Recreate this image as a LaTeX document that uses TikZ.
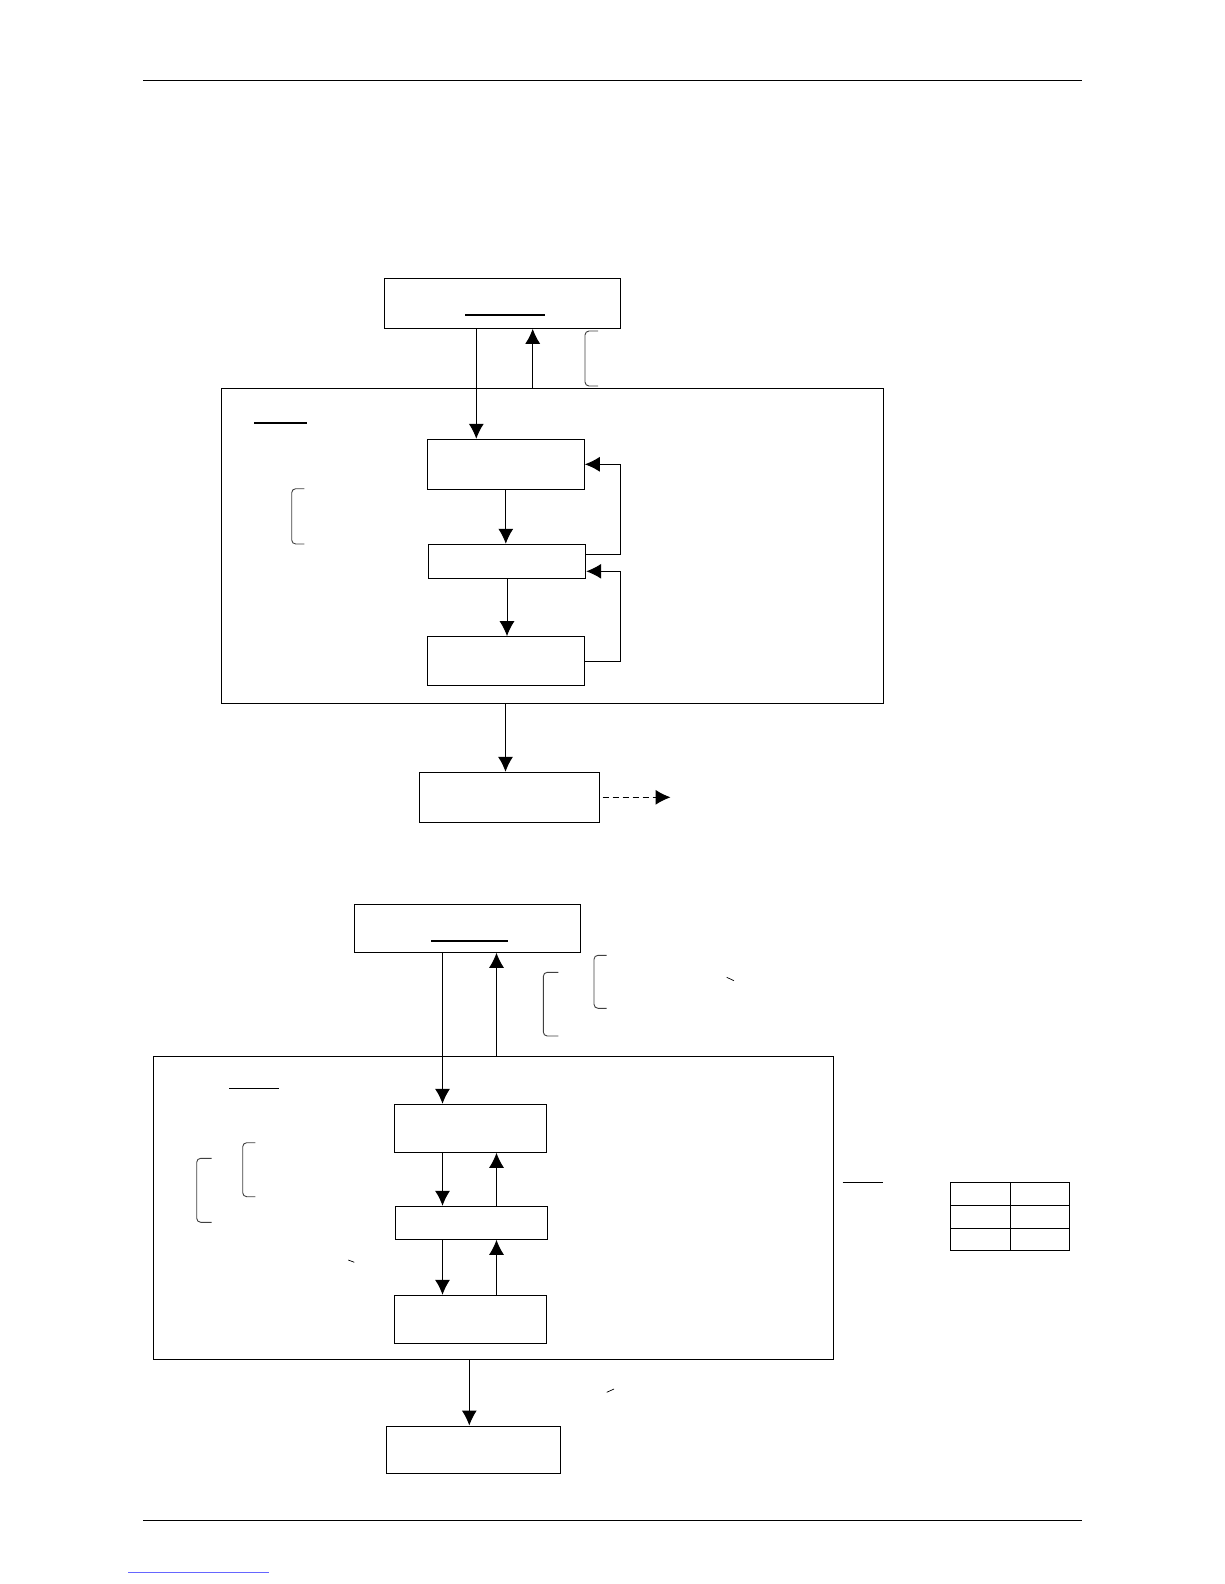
\documentclass[tikz,border=0pt]{standalone}
\usepackage{amsmath,amssymb}
\usepackage{xcolor}
\usepackage{tikz}
\usetikzlibrary{arrows.meta}

\tikzset{
  box/.style={draw, line width=1pt, inner sep=0pt, rectangle},
  brace/.style={draw=black!75, line width=0.9pt, rounded corners=4pt},
  rule/.style={line width=1pt},
}

\begin{document}
\begin{tikzpicture}[x=1pt, y=-1pt, line width=1pt, >={Latex[length=15pt,width=15pt]}]
  \useasboundingbox (0,0) rectangle (1224,1584);
  % page rules
  \draw [rule] (143.3,80.7) -- (1081.7,80.7);
  \draw [rule] (143.3,1520.3) -- (1081.7,1520.3);
  \draw [line width=0.8pt, blue!60] (128,1572) -- (269,1572);

  % upper diagram
  \node [box, minimum width=236.4, minimum height=50] (top1) at (502.5,303.3) {};
  \node [box, minimum width=661.6, minimum height=314.5] (big1) at (552.5,546) {};
  \node [box, minimum width=157, minimum height=50] (A) at (505.8,464.3) {};
  \node [box, minimum width=157.4, minimum height=34] (B) at (507,561.3) {};
  \node [box, minimum width=157, minimum height=49.3] (C) at (505.8,661.3) {};
  \node [box, minimum width=179.7, minimum height=50] (D) at (509.2,797.3) {};
  \coordinate (xdn1) at (476.3,0);
  \coordinate (xup1) at (532.7,0);
  \coordinate (xout) at (505.5,0);

  \draw [->] (top1.south -| xdn1) -- (A.north -| xdn1);
  \draw [->] (big1.north -| xup1) -- (top1.south -| xup1);
  \draw [->] (A.south) -- (A.south |- B.north);
  \draw [->] (B.south) -- (B.south |- C.north);
  \draw [->] ([yshift=7.3pt]B.east) -- ++(34.3,0) |- (A.east);
  \draw [->] (C.east) -- ++(35.7,0) |- ([yshift=-10pt]B.east);
  \draw [->] (big1.south -| xout) -- (D.north -| xout);
  \draw [->, dash pattern=on 6pt off 4pt] ([xshift=3pt]D.east) -- ++(68,0);

  \draw [line width=1.2pt] (465,315) -- (545,315);
  \draw [line width=1.6pt] (254.3,422.7) -- (306.7,422.7);
  \draw [brace] (598,331) -- (585,331) -- (585,386) -- (598,386);
  \draw [brace] (304.3,488.7) -- (291.7,488.7) -- (291.7,544) -- (304.3,544);

  % lower diagram
  \node [box, minimum width=226.4, minimum height=48] (top2) at (467.5,928.3) {};
  \node [box, minimum width=680, minimum height=302.6] (big2) at (493.3,1208) {};
  \node [box, minimum width=152.4, minimum height=48] (F) at (470.5,1128.3) {};
  \node [box, minimum width=152.4, minimum height=33] (G) at (471.5,1222.8) {};
  \node [box, minimum width=152.4, minimum height=48] (H) at (470.5,1319.3) {};
  \node [box, minimum width=173.6, minimum height=47.6] (I) at (473.5,1449.8) {};
  \coordinate (xdn) at (442.5,0);
  \coordinate (xup) at (496.5,0);
  \coordinate (xout2) at (469.3,0);

  \draw [->] (top2.south -| xdn) -- (F.north -| xdn);
  \draw [->] (big2.north -| xup) -- (top2.south -| xup);
  \draw [->] (F.south -| xdn) -- (G.north -| xdn);
  \draw [->] (G.north -| xup) -- (F.south -| xup);
  \draw [->] (G.south -| xdn) -- (H.north -| xdn);
  \draw [->] (H.north -| xup) -- (G.south -| xup);
  \draw [->] (big2.south -| xout2) -- (I.north -| xout2);

  \draw [line width=1.6pt] (431,940.7) -- (507.7,940.7);
  \draw [line width=1.2pt] (229,1088.3) -- (279,1088.3);
  \draw [line width=1.2pt] (842.7,1182.3) -- (882.7,1182.3);
  \draw [brace] (558.3,972.3) -- (543.3,972.3) -- (543.3,1036) -- (558.3,1036);
  \draw [brace] (606.7,955.3) -- (594,955.3) -- (594,1008.3) -- (606.7,1008.3);
  \draw [brace] (211.7,1158.3) -- (196.7,1158.3) -- (196.7,1222.3) -- (211.7,1222.3);
  \draw [brace] (255.3,1142.7) -- (242.7,1142.7) -- (242.7,1196.7) -- (255.3,1196.7);
  \draw [line width=0.7pt] (726.7,977.3) -- (734,980.7);
  \draw [line width=0.7pt] (348.3,1260) -- (354.3,1262.3);
  \draw [line width=0.7pt] (606.7,1392.3) -- (614,1389);

  % table
  \draw (950.3,1182.3) rectangle (1069.3,1250);
  \draw (1010.3,1182.3) -- (1010.3,1250);
  \foreach \ry in {1205,1228.7}
    \draw (950.3,\ry) -- (1069.3,\ry);
\end{tikzpicture}
\end{document}
